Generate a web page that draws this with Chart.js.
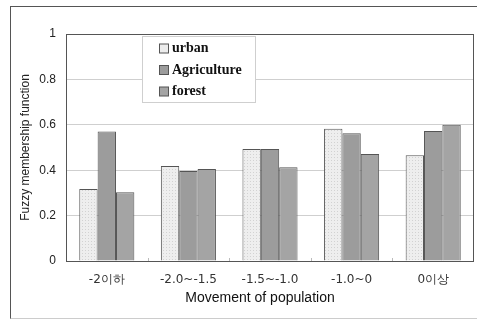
<!DOCTYPE html>
<html><head><meta charset="utf-8">
<script src="https://cdn.jsdelivr.net/npm/chart.js@4/dist/chart.umd.min.js"></script>
<style>
html,body{margin:0;padding:0;background:#fff;}
#wrap{position:absolute;left:0;top:0;width:477px;height:319px;}
#frame{position:absolute;left:10px;top:6px;width:475px;height:311px;border-left:1px solid #555;border-top:1px solid #555;border-bottom:1px solid #ccc;}
canvas{position:absolute;left:0;top:0;}
</style></head>
<body>
<div id="wrap"><div id="frame"></div><canvas id="c" width="477" height="319"></canvas></div>
<script>
const categories = ["-2이하", "-2.0~-1.5", "-1.5~-1.0", "-1.0~0", "0이상"];
const urban = [0.317, 0.418, 0.493, 0.583, 0.466];
const agriculture = [0.570, 0.396, 0.493, 0.563, 0.573];
const forest = [0.303, 0.405, 0.413, 0.471, 0.600];
const yTicks = [0, 0.2, 0.4, 0.6, 0.8, 1];
const xTitle = 'Movement of population';

function dotPattern(){
  const p = document.createElement('canvas'); p.width = 3; p.height = 3;
  const g = p.getContext('2d');
  g.fillStyle = '#eeeeee'; g.fillRect(0,0,3,3);
  g.fillStyle = '#d2d2d2'; g.fillRect(1,1,1,1);
  return g.createPattern(p,'repeat');
}
const urbanFill = dotPattern();

const legendPlugin = {
  id:'boxLegend',
  afterDraw(chart){
    const ctx = chart.ctx;
    const x0 = 142, y0 = 36, w = 113, h = 66;
    ctx.save();
    ctx.fillStyle = '#fff'; ctx.fillRect(x0,y0,w,h);
    ctx.strokeStyle = '#cfcfcf'; ctx.lineWidth = 1; ctx.strokeRect(x0+0.5,y0+0.5,w,h);
    ctx.font = 'bold 14px "Liberation Serif"';
    ctx.textBaseline = 'middle';
    chart.data.datasets.forEach((ds,i)=>{
      const y = 48.5 + i*21.5;
      ctx.fillStyle = i===0 ? '#ececec' : ds.backgroundColor;
      ctx.fillRect(159, y-4.5, 9, 9);
      ctx.strokeStyle = '#555'; ctx.strokeRect(159.5, y-4.5, 9, 9);
      ctx.fillStyle = '#111';
      ctx.fillText(ds.label, 172, y);
    });
    const a = chart.chartArea;
    const xs = chart.scales.x;
    ctx.strokeStyle = '#bbb';
    for (let i = 1; i < categories.length; i++) {
      const x = Math.round((xs.getPixelForValue(i-1) + xs.getPixelForValue(i))/2) + 0.5;
      ctx.beginPath(); ctx.moveTo(x, a.bottom); ctx.lineTo(x, a.bottom-3); ctx.stroke();
    }
    ctx.strokeStyle = '#555'; ctx.lineWidth = 1;
    ctx.strokeRect(Math.round(a.left)+0.5, Math.round(a.top)+0.5, Math.round(a.right-a.left)-1, Math.round(a.bottom-a.top));
    ctx.fillStyle = '#111';
    ctx.font = '14px "Liberation Sans"';
    ctx.textAlign = 'center'; ctx.textBaseline = 'middle';
    ctx.fillText(xTitle, 260, 298);
    ctx.restore();
  }
};

new Chart(document.getElementById('c'), {
  type:'bar',
  data:{
    labels: categories,
    datasets:[
      {label:'urban', data: urban, backgroundColor: urbanFill, borderColor:'#555', borderWidth:1},
      {label:'Agriculture', data: agriculture, backgroundColor:'#9c9c9c', borderColor:'#555', borderWidth:1},
      {label:'forest', data: forest, backgroundColor:'#a4a4a4', borderColor:'#555', borderWidth:1}
    ]
  },
  options:{
    responsive:false, animation:false,
    layout:{padding:{left:0, top:34, right:3, bottom:0}},
    datasets:{bar:{categoryPercentage:0.675, barPercentage:1.0}},
    plugins:{legend:{display:false}, tooltip:{enabled:false}},
    scales:{
      x:{
        grid:{display:false},
        border:{display:false},
        ticks:{color:'#333', font:{family:'"DejaVu Sans"', size:12}, padding:4},
        afterFit(s){ s.height = 58; }
      },
      y:{
        min:0, max:1,
        afterBuildTicks(s){ s.ticks = yTicks.map(v=>({value:v})); },
        grid:{color:'#cfcfcf', drawTicks:false},
        border:{display:false},
        ticks:{color:'#222', font:{family:'"Liberation Sans"', size:12}, padding:10, callback:(v)=>String(v)},
        title:{display:true, text:'Fuzzy membership function', color:'#222', font:{family:'"Liberation Sans"', size:12}, padding:{top:18, bottom:2}},
        afterFit(s){ s.width = 66; }
      }
    }
  },
  plugins:[legendPlugin]
});
</script>
</body></html>
